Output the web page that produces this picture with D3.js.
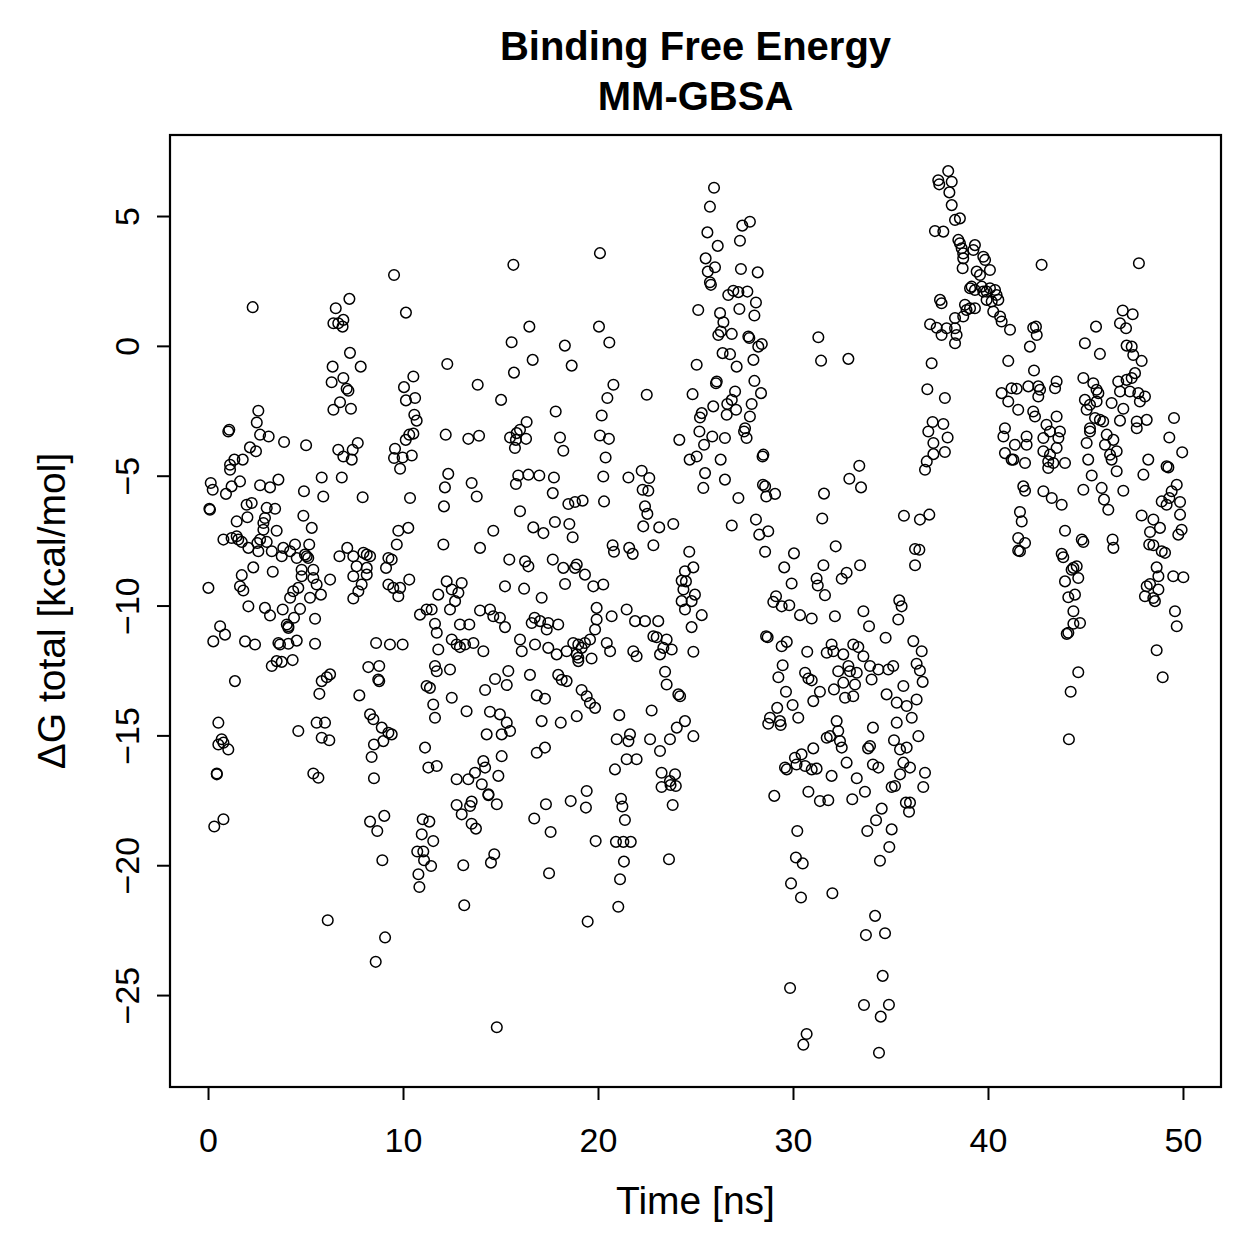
<!DOCTYPE html>
<html><head><meta charset="utf-8">
<script src="https://cdn.jsdelivr.net/npm/d3@7"></script>
<style>body{margin:0;background:#fff}svg text{font-family:"Liberation Sans",Arial,Helvetica,sans-serif}</style>
</head><body>
<script>
const titleLines = ["Binding Free Energy", "MM-GBSA"];
const xLabel = "Time [ns]";
const yLabel = "\u0394G total [kcal/mol]";
const xTicks = [0, 10, 20, 30, 40, 50];
const yTicks = [-25, -20, -15, -10, -5, 0, 5];

// [time (ns), dG total (kcal/mol)]
const points = [
[2.29,1.49],[9.54,2.73],[10.15,1.28],[7.25,1.81],[6.55,1.45],[6.43,0.87],[6.68,0.87],[6.94,1.0],[6.9,0.74],[7.28,-0.27],[6.39,-0.8],[7.83,-0.8],[6.34,-1.4],[6.94,-1.24],[7.11,-1.65],[7.2,-1.73],[6.77,-2.17],[6.43,-2.46],[7.33,-2.42],[10.53,-1.18],[10.05,-1.59],[10.62,-2.01],[10.15,-2.1],[10.58,-2.65],[10.7,-2.88],[10.32,-3.42],[10.53,-3.38],[10.14,-3.62],[9.59,-3.96],[10.45,-4.22],[9.98,-4.3],[9.54,-4.32],[2.58,-2.5],[2.5,-2.95],[2.67,-3.42],[3.11,-3.49],[1.09,-3.23],[1.04,-3.3],[3.9,-3.7],[5.03,-3.83],[2.15,-3.91],[2.46,-4.06],[1.35,-4.38],[1.78,-4.38],[1.13,-4.58],[6.68,-4.0],[7.42,-4.0],[7.68,-3.74],[6.94,-4.26],[7.37,-4.38],
[15.66,3.12],[20.1,3.57],[16.48,0.74],[20.05,0.74],[15.57,0.14],[18.3,0.01],[20.58,0.13],[12.27,-0.7],[16.65,-0.54],[15.69,-1.03],[18.65,-0.76],[13.83,-1.5],[20.79,-1.5],[22.5,-1.88],[15.03,-2.08],[20.48,-2.01],[17.83,-2.53],[20.19,-2.68],[12.19,-3.42],[13.35,-3.58],[13.9,-3.46],[15.49,-3.53],[15.83,-3.36],[16.0,-3.23],[16.34,-2.93],[16.31,-3.58],[15.79,-3.62],[15.74,-3.93],[18.05,-3.53],[18.22,-4.04],[20.1,-3.45],[20.56,-3.58],[20.39,-4.3],[24.17,-3.62],[24.7,-4.38],
[25.95,6.09],[25.74,5.36],[25.61,4.37],[27.79,4.78],[27.4,4.63],[26.14,3.85],[27.28,4.05],[25.52,3.37],[26.0,3.03],[25.63,2.86],[25.74,2.45],[25.79,2.35],[27.33,2.96],[28.19,2.83],[26.68,1.96],[26.94,2.12],[27.2,2.07],[27.66,2.09],[28.1,1.67],[28.02,1.17],[27.25,1.42],[26.26,1.26],[26.43,0.91],[26.17,0.42],[26.3,0.55],[26.86,0.46],[25.14,1.38],[27.71,0.36],[27.76,0.3],[28.22,-0.03],[28.4,0.07],[26.39,-0.28],[26.77,-0.32],[27.11,-0.8],[27.97,-0.54],[25.06,-0.73],[26.09,-1.37],[26.05,-1.44],[27.03,-1.76],[28.02,-1.35],[28.36,-1.82],[24.85,-1.86],[27.88,-2.24],[27.79,-2.72],[27.08,-2.46],[26.63,-2.24],[26.86,-2.08],[25.91,-2.33],[26.6,-2.65],[25.32,-2.59],[25.23,-2.76],[27.54,-3.17],[27.49,-3.3],[27.62,-3.55],[25.2,-3.3],[25.86,-3.49],[26.51,-3.55],[25.44,-3.81],[28.48,-4.19],[28.44,-4.26],[25.06,-4.26],[26.29,-4.38],[31.3,0.33],[31.44,-0.57],[32.84,-0.5],
[37.96,6.73],[37.45,6.38],[37.5,6.22],[38.14,6.32],[38.02,5.91],[38.14,5.42],[38.31,4.85],[38.56,4.91],[37.28,4.42],[37.71,4.4],[37.54,1.77],[37.62,1.64],[37.03,0.83],[37.37,0.7],[37.62,0.42],[37.88,0.68],[37.11,-0.67],[36.89,-1.67],[37.79,-2.01],[37.16,-2.93],[37.71,-3.01],[36.94,-3.3],[37.93,-3.53],[37.2,-3.74],[37.79,-4.09],[37.2,-4.17],[36.86,-4.45],
[38.48,4.08],[38.56,3.95],[38.65,3.76],[38.73,3.56],[38.73,3.37],[38.7,2.99],[39.33,3.88],[39.25,3.69],[39.76,3.43],[39.85,3.31],[40.1,2.92],[39.42,2.86],[39.59,2.73],[39.08,2.22],[39.16,2.28],[39.33,2.15],[39.68,2.28],[39.76,2.09],[39.93,2.09],[40.1,2.22],[40.36,2.15],[40.44,1.96],[40.53,1.77],[39.93,1.77],[40.19,1.71],[40.27,1.32],[40.62,1.13],[40.7,0.94],[41.13,0.62],[38.31,1.07],[38.31,0.68],[38.39,0.42],[38.31,0.1],[38.82,1.58],[38.9,1.38],[39.08,1.45],[39.33,1.45],[38.73,1.13],
[42.75,3.12],[47.74,3.18],[42.32,0.7],[42.46,0.74],[42.5,0.42],[42.15,-0.03],[41.04,-0.58],[42.36,-0.95],[45.54,0.74],[44.97,0.1],[45.74,-0.31],
[46.91,1.36],[47.42,1.22],[46.77,0.87],[47.08,0.68],[47.11,0.01],[47.37,-0.03],[47.45,-0.35],[47.88,-0.58],[47.54,-1.05],[47.37,-1.24],[47.11,-1.31],[46.68,-1.37],[46.77,-1.76],[47.28,-1.76],[47.71,-1.82],[48.05,-1.95],[47.79,-2.14],[46.94,-2.42],[46.34,-2.2],[46.77,-2.88],[47.63,-2.91],[48.14,-2.85],[47.63,-3.17],[49.54,-2.78],[49.3,-3.53],[49.96,-4.1],[48.22,-4.38],
[44.89,-1.24],[45.4,-1.44],[45.57,-1.69],[45.66,-1.82],[44.97,-2.08],[45.23,-2.27],[45.06,-2.46],[45.57,-2.14],[45.49,-2.78],[45.74,-2.85],[45.91,-2.91],[45.23,-3.17],[45.23,-3.3],[46.09,-3.42],[46.0,-3.81],[46.43,-3.62],[46.6,-4.06],[46.26,-4.19],[46.34,-4.38],[45.06,-3.74],[45.14,-4.38],[43.52,-1.37],[43.44,-1.63],[42.67,-1.69],[42.58,-1.95],[42.32,-2.53],[42.41,-2.72],[41.55,-2.46],[41.04,-2.14],[40.7,-1.82],[41.21,-1.63],[41.47,-1.65],[42.07,-1.56],[42.58,-1.56],[43.52,-2.72],[43.0,-3.04],[43.18,-3.3],[43.69,-3.3],[42.84,-3.55],[43.61,-3.55],[40.87,-3.17],[40.79,-3.49],[41.38,-3.81],[41.98,-3.49],[41.98,-3.81],[40.87,-4.13],[41.21,-4.38],[41.9,-4.51],[42.84,-4.06],[43.18,-4.19],[43.52,-3.93],[43.95,-4.51],
[1.13,-4.77],[0.14,-5.28],[0.24,-5.54],[0.92,-5.7],[1.21,-5.41],[1.64,-5.22],[0.1,-6.31],[0.07,-6.27],[2.67,-5.37],[3.18,-5.45],[3.61,-5.15],[1.98,-6.12],[2.24,-6.05],[2.02,-6.6],[1.47,-6.76],[3.01,-6.24],[3.44,-6.27],[2.92,-6.63],[2.84,-6.82],[3.52,-7.12],[2.84,-7.08],[0.79,-7.46],[1.21,-7.4],[1.47,-7.33],[1.55,-7.46],[1.73,-7.55],[2.07,-7.78],[2.53,-7.59],[2.67,-7.46],[3.01,-7.55],[2.58,-7.91],[3.27,-7.91],[3.86,-7.78],[4.21,-7.91],[4.46,-7.65],[3.78,-8.1],[4.55,-8.17],[4.97,-8.04],[5.06,-8.1],[5.19,-7.65],[5.14,-8.17],[4.89,-6.54],[5.32,-7.01],[4.92,-5.6],[5.91,-5.8],[5.83,-5.07],[6.86,-5.07],[7.93,-5.83],[6.74,-8.1],[7.14,-7.78],[7.45,-8.1],[7.97,-7.97],[8.14,-8.04],[8.31,-8.1],[7.62,-8.49],[8.14,-8.55],[8.14,-8.81],[7.45,-8.87],[7.88,-9.19],[7.71,-9.45],[7.45,-9.73],[10.36,-5.86],[10.27,-7.01],[9.76,-7.12],[9.68,-7.65],[9.25,-8.17],[9.42,-8.23],[9.13,-8.55],[9.25,-9.19],[9.5,-9.32],[9.76,-9.64],[9.85,-9.32],[10.32,-9.0],[2.32,-8.53],[1.73,-8.83],[3.32,-8.7],[1.64,-9.26],[1.81,-9.42],[0.02,-9.32],[2.07,-10.03],[4.8,-8.62],[4.8,-8.87],[5.4,-8.62],[5.57,-9.19],[4.63,-9.32],[4.37,-9.45],[4.21,-9.7],[5.23,-9.7],[5.79,-9.58],[6.26,-9.0],[5.4,-8.94],[2.92,-10.09],[3.18,-10.38],[3.83,-10.15],[4.72,-10.13],[4.41,-10.47],[4.04,-10.73],[4.12,-10.8],[4.12,-10.86],[5.49,-10.51],[0.62,-10.8],[0.87,-11.12],[0.27,-11.38],[1.9,-11.38],[2.41,-11.5],[3.61,-11.44],[3.69,-11.5],[4.12,-11.47],[4.55,-11.35],[5.49,-11.47],[3.27,-12.33],[3.52,-12.14],[3.78,-12.17],[4.34,-12.1],[1.38,-12.91],[5.83,-12.91],[6.09,-12.76],[6.26,-12.65],[5.71,-13.4],[8.62,-11.44],[9.33,-11.5],[9.98,-11.5],[8.22,-12.37],[8.78,-12.33],[8.73,-12.85],[8.78,-12.91],[7.76,-13.46],[11.21,-13.1],[11.38,-13.17],[10.87,-10.35],[11.21,-10.15],[11.47,-10.15],[11.64,-10.7],[11.73,-11.05],[11.81,-11.69],[11.64,-12.33],[11.73,-12.53],[11.55,-13.81],[11.64,-14.32],[11.13,-15.47],[11.3,-16.24],[11.73,-16.18],[11.81,-9.58],[0.53,-14.51],[0.7,-15.15],[0.53,-15.35],[0.79,-15.28],[1.04,-15.54],[0.45,-16.5],[0.45,-16.47],[4.63,-14.83],[5.57,-14.51],[6.0,-14.51],[5.83,-15.09],[6.22,-15.19],[5.4,-16.47],[5.66,-16.63],[8.31,-14.19],[8.48,-14.38],[8.91,-14.7],[9.25,-14.9],[9.42,-14.96],[8.99,-15.22],[8.51,-15.35],[8.39,-15.83],[8.51,-16.65],[9.85,-4.73],
[12.32,-4.93],[12.15,-5.45],[12.1,-6.18],[12.07,-7.65],[13.52,-5.28],[13.78,-5.8],[13.95,-7.78],[14.63,-7.12],[16.0,-6.37],[15.91,-4.99],[15.79,-5.32],[16.43,-4.96],[16.99,-4.99],[17.74,-5.07],[17.68,-5.67],[16.68,-6.99],[17.2,-7.21],[17.79,-6.78],[18.53,-6.86],[18.7,-7.37],[18.48,-6.09],[18.82,-6.01],[19.21,-5.96],[20.27,-5.03],[20.31,-5.99],[21.56,-5.07],[22.24,-4.81],[22.63,-5.09],[22.29,-5.54],[22.58,-5.58],[22.41,-6.18],[22.53,-6.47],[22.32,-6.95],[23.14,-6.99],[23.86,-6.86],[22.84,-7.68],[24.68,-7.93],[24.89,-8.53],[24.46,-8.68],[24.29,-9.04],[24.51,-9.07],[24.38,-9.38],[24.97,-9.58],[24.8,-9.83],[24.46,-10.15],[24.29,-9.83],[20.75,-7.68],[20.82,-7.93],[21.6,-7.78],[21.78,-8.01],
[12.24,-9.07],[12.5,-9.38],[13.01,-9.13],[12.84,-9.51],[12.67,-9.83],[12.41,-10.15],[12.92,-10.73],[13.4,-10.73],[13.95,-10.19],[14.46,-10.15],[14.63,-10.41],[14.97,-10.47],[15.23,-10.83],[12.5,-11.31],[12.75,-11.5],[12.92,-11.6],[13.18,-11.5],[13.61,-11.44],[14.12,-11.76],[12.41,-12.46],[15.23,-9.26],[16.21,-9.35],[17.11,-9.7],[15.45,-8.23],[16.26,-8.3],[16.43,-8.49],[17.68,-8.23],[18.22,-8.55],[18.91,-8.42],[18.82,-8.55],[19.33,-8.81],[19.76,-9.26],[20.27,-9.19],[18.31,-9.17],
[16.6,-10.67],[16.75,-10.47],[17.03,-10.6],[17.45,-10.67],[17.37,-10.92],[17.96,-10.73],[16.0,-11.31],[16.09,-11.76],[16.77,-11.5],[17.45,-11.63],[17.88,-11.88],[18.39,-11.76],[18.73,-11.44],[18.99,-11.5],[19.16,-11.63],[19.33,-11.44],[19.59,-11.31],[19.93,-10.09],[19.93,-10.54],[19.85,-10.92],[20.45,-11.44],[20.62,-11.76],[20.7,-10.41],[21.47,-10.15],[21.9,-10.6],[22.41,-10.6],[23.09,-10.6],[22.84,-11.18],[23.01,-11.22],[23.52,-11.31],[23.78,-11.69],[23.35,-11.63],[23.18,-11.88],[21.81,-11.76],[21.98,-11.95],[18.91,-11.88],[18.99,-12.14],[19.67,-12.04],[18.99,-12.01],
[14.21,-13.25],[14.72,-12.83],[15.32,-13.06],[15.4,-12.52],[16.51,-12.67],[16.86,-13.46],[17.28,-13.59],[17.96,-12.67],[18.14,-12.86],[18.39,-12.91],[19.16,-13.25],[19.42,-13.49],[19.59,-13.75],[19.85,-13.94],[17.11,-14.45],[18.09,-14.51],[18.91,-14.26],[21.09,-14.22],[22.75,-14.04],[23.44,-12.55],[23.52,-13.04],[24.12,-13.42],[24.21,-13.49],[24.46,-14.45],[24.04,-14.7],[24.89,-15.03],[23.69,-15.15],[23.18,-15.6],[22.67,-15.15],[21.64,-14.96],[21.56,-15.22],[20.96,-15.15],[21.98,-15.92],[21.47,-15.92],[20.87,-16.31],[14.46,-14.09],[14.97,-14.19],[15.32,-14.51],[15.49,-14.83],[15.06,-14.96],[14.29,-14.96],[13.26,-14.07],[12.5,-13.55],
[17.28,-15.47],[16.86,-15.67],[15.06,-15.8],[14.12,-15.99],[14.21,-16.24],[13.69,-16.44],[12.75,-16.69],[13.35,-16.69],[14.89,-16.56],[23.26,-16.44],[23.95,-16.5],[23.69,-16.76],
[25.49,-4.9],[25.4,-5.47],[26.51,-5.15],[27.2,-5.86],[26.86,-6.92],[28.1,-6.69],[28.27,-7.27],[28.73,-7.14],[28.57,-7.93],[28.46,-5.35],[28.57,-5.41],[28.63,-5.8],[29.08,-5.7],[25.32,-10.37],[24.8,-10.83],[24.89,-11.78],
[31.59,-5.69],[31.5,-6.65],[33.4,-4.62],[32.89,-5.12],[33.49,-5.45],[32.19,-7.72],[30.05,-7.99],[29.55,-8.53],[29.93,-9.15],[31.56,-8.45],[31.21,-8.96],[31.27,-9.23],[31.64,-9.6],[32.5,-8.97],[32.75,-8.74],[33.44,-8.45],[29.13,-9.64],[28.99,-9.86],[29.42,-10.03],[29.81,-9.99],[30.36,-10.37],[30.96,-10.5],[32.15,-10.41],[33.61,-10.22],[33.9,-10.8],[34.75,-11.24],[35.45,-9.8],[35.57,-10.03],[35.4,-10.54],[35.69,-6.54],[36.51,-6.69],[36.99,-6.5],[36.26,-7.82],[36.48,-7.85],[36.26,-8.45],[36.77,-4.77],
[28.62,-11.18],[28.7,-11.22],[29.42,-11.57],[29.68,-11.4],[30.73,-11.78],[29.47,-12.3],[29.25,-12.76],[30.62,-12.59],[30.79,-12.81],[30.96,-12.88],[31.38,-13.32],[31.04,-13.68],[29.64,-13.32],[29.98,-13.83],[30.27,-14.32],[29.19,-13.94],[28.82,-14.32],[28.73,-14.55],[29.33,-14.45],[29.37,-14.6],[31.73,-11.82],[31.98,-11.5],[32.07,-11.76],[32.32,-12.53],[32.58,-11.88],[33.09,-11.5],[33.35,-11.6],[33.61,-11.95],[32.84,-12.33],[32.92,-12.53],[33.27,-12.59],[32.58,-12.97],[33.18,-13.04],[32.1,-13.23],[32.67,-13.55],[33.09,-13.49],[33.95,-12.33],[34.03,-12.85],[34.38,-12.46],[34.89,-12.46],[35.14,-12.33],[34.8,-13.42],[35.32,-13.74],[35.66,-13.1],[35.83,-13.87],[36.09,-14.32],[36.34,-13.62],[36.17,-11.37],[36.6,-11.76],[36.34,-12.24],[36.51,-12.5],[36.65,-12.94],[35.32,-14.51],[35.18,-15.19],[35.49,-15.54],[35.83,-15.47],[36.43,-15.03],[34.1,-14.7],[33.85,-15.5],[33.95,-15.41],[34.1,-16.12],[34.38,-16.24],[32.24,-14.45],[32.32,-14.83],[31.73,-15.09],[31.9,-15.03],[32.41,-15.22],[32.5,-15.47],[32.75,-16.05],[33.27,-16.65],[31.98,-16.56],[31.04,-15.5],[30.44,-15.73],[30.1,-15.86],[30.18,-16.12],[29.59,-16.24],[29.68,-16.31],[30.62,-16.18],[30.96,-16.31],[31.21,-16.28],[35.66,-16.05],[36.0,-16.24],[36.77,-16.44],[35.49,-16.5],
[41.3,-4.38],[43.09,-4.45],[43.35,-4.51],[43.09,-4.7],[45.32,-4.99],[44.89,-5.54],[46.6,-4.83],[45.83,-5.47],[45.95,-5.92],[46.17,-6.31],[46.94,-5.58],[47.97,-4.96],[49.16,-4.64],[49.25,-4.68],[41.81,-5.41],[41.9,-5.58],[42.84,-5.6],[43.27,-5.86],[43.78,-6.12],[41.64,-6.4],[41.73,-6.76],[41.55,-7.4],[41.9,-7.59],[41.64,-7.91],[41.55,-7.88],[43.95,-7.12],[44.81,-7.46],[44.89,-7.55],[46.39,-7.46],[46.43,-7.78],[43.78,-8.01],[43.86,-8.14],[44.38,-8.55],[44.55,-8.49],[44.63,-8.94],[44.29,-8.62],[43.95,-9.07],[44.12,-9.68],[44.46,-9.58],[44.38,-10.22],[44.38,-10.7],[44.72,-10.67],[44.12,-11.05],[44.04,-11.09],[44.63,-12.57],[44.24,-13.32],[44.15,-15.15],[47.88,-6.53],[48.48,-6.69],[48.82,-7.01],[48.31,-7.17],[48.27,-7.65],[48.48,-7.68],[48.91,-7.91],[49.08,-7.97],[48.65,-8.53],[48.74,-8.87],[48.31,-9.17],[48.14,-9.26],[48.05,-9.64],[48.48,-9.71],[48.56,-9.83],[48.74,-9.38],[49.5,-8.87],[50.02,-8.91],[49.59,-10.22],[49.68,-10.8],[48.65,-11.72],[48.96,-12.76],[49.3,-5.86],[49.16,-6.12],[49.42,-5.6],[49.68,-5.35],[49.85,-6.01],[49.85,-6.5],[49.93,-7.08],[49.76,-7.27],[48.91,-5.99],
[0.79,-18.23],[0.32,-18.51],[9.04,-18.1],[8.31,-18.32],[8.68,-18.68],[8.94,-19.81],[11.01,-18.23],[11.35,-18.32],[10.96,-18.81],[11.55,-19.07],[10.73,-19.47],[11.04,-19.47],[11.08,-19.81],[11.44,-20.03],[10.79,-20.35],[10.84,-20.84],[6.14,-22.12],[9.08,-22.78],[8.6,-23.72],
[14.04,-16.88],[14.38,-17.27],[14.38,-17.3],[14.81,-17.65],[12.75,-17.68],[13.01,-18.04],[13.52,-17.55],[13.44,-17.72],[13.52,-18.4],[13.74,-18.59],[13.09,-20.0],[14.68,-19.58],[14.51,-19.9],[13.14,-21.54],[14.81,-26.24],[17.33,-17.65],[16.73,-18.2],[17.57,-18.72],[17.49,-20.31],[18.6,-17.53],[19.42,-17.14],[19.38,-17.78],[19.88,-19.07],[21.18,-17.44],[21.25,-17.74],[21.38,-18.26],[20.92,-19.1],[21.3,-19.1],[21.68,-19.1],[21.33,-19.86],[21.13,-20.54],[21.04,-21.6],[19.47,-22.17],[23.26,-16.99],[23.72,-16.91],[23.99,-16.95],[23.83,-17.68],[23.64,-19.77],
[29.04,-17.33],[30.79,-17.17],[31.38,-17.53],[31.81,-17.5],[33.69,-17.17],[33.04,-17.46],[34.55,-17.82],[34.26,-18.27],[33.81,-18.68],[35.06,-18.62],[34.94,-19.3],[34.46,-19.83],[35.06,-16.99],[35.23,-16.95],[35.79,-17.59],[36.0,-17.59],[35.95,-17.94],[36.68,-16.99],[30.22,-18.68],[30.15,-19.7],[30.5,-19.93],[29.9,-20.7],[30.41,-21.24],[32.02,-21.08],[29.85,-24.73],[30.7,-26.5],[30.53,-26.91],[34.21,-21.95],[33.74,-22.69],[34.72,-22.62],[34.6,-24.26],[33.64,-25.38],[34.92,-25.37],[34.5,-25.83],[34.41,-27.22]
];
const time = points.map(p => p[0]);
const dG = points.map(p => p[1]);

const W = 1259, H = 1259;
const box = {left: 170, right: 1221, top: 135, bottom: 1087};
const svg = d3.select("body").append("svg").attr("width", W).attr("height", H);

const x = d3.scaleLinear().domain([-1.95, 51.95]).range([box.left, box.right]);
const y = d3.scaleLinear().domain([-28.54, 8.12]).range([box.bottom, box.top]);

// points
svg.append("g").selectAll("circle").data(time).join("circle")
  .attr("cx", (d, i) => x(time[i]))
  .attr("cy", (d, i) => y(dG[i]))
  .attr("r", 5.3)
  .attr("fill", "none").attr("stroke", "#000").attr("stroke-width", 1.5);

// box
svg.append("rect").attr("x", box.left).attr("y", box.top)
  .attr("width", box.right - box.left).attr("height", box.bottom - box.top)
  .attr("fill", "none").attr("stroke", "#000").attr("stroke-width", 2.2);

// axes
const xAxis = d3.axisBottom(x).tickValues(xTicks).tickSize(13).tickFormat(d3.format("d"));
const gx = svg.append("g").attr("transform", `translate(0,${box.bottom})`).call(xAxis);
gx.select(".domain").remove();
gx.selectAll("line").attr("stroke", "#000").attr("stroke-width", 2);
gx.selectAll("text").attr("font-size", 34).attr("fill", "#000")
  .attr("y", 65).attr("dy", null);

const yAxis = d3.axisLeft(y).tickValues(yTicks).tickSize(13).tickFormat(d3.format("d"));
const gy = svg.append("g").attr("transform", `translate(${box.left},0)`).call(yAxis);
gy.select(".domain").remove();
gy.selectAll("line").attr("stroke", "#000").attr("stroke-width", 2);
gy.selectAll("text")
  .attr("font-size", 34).attr("fill", "#000")
  .attr("x", null).attr("dy", null)
  .attr("text-anchor", "middle")
  .attr("transform", "translate(-31,0) rotate(-90)");

// titles
svg.append("g").selectAll("text").data(titleLines).join("text")
  .attr("x", (box.left + box.right) / 2)
  .attr("y", (d, i) => 60 + i * 50)
  .attr("text-anchor", "middle")
  .attr("font-size", 40).attr("font-weight", "bold")
  .text(d => d);

svg.append("text").attr("x", (box.left + box.right) / 2).attr("y", 1214)
  .attr("text-anchor", "middle").attr("font-size", 39).text(xLabel);

svg.append("text")
  .attr("transform", `translate(65,${(box.top + box.bottom) / 2}) rotate(-90)`)
  .attr("text-anchor", "middle").attr("font-size", 39).text(yLabel);
</script>
</body></html>
